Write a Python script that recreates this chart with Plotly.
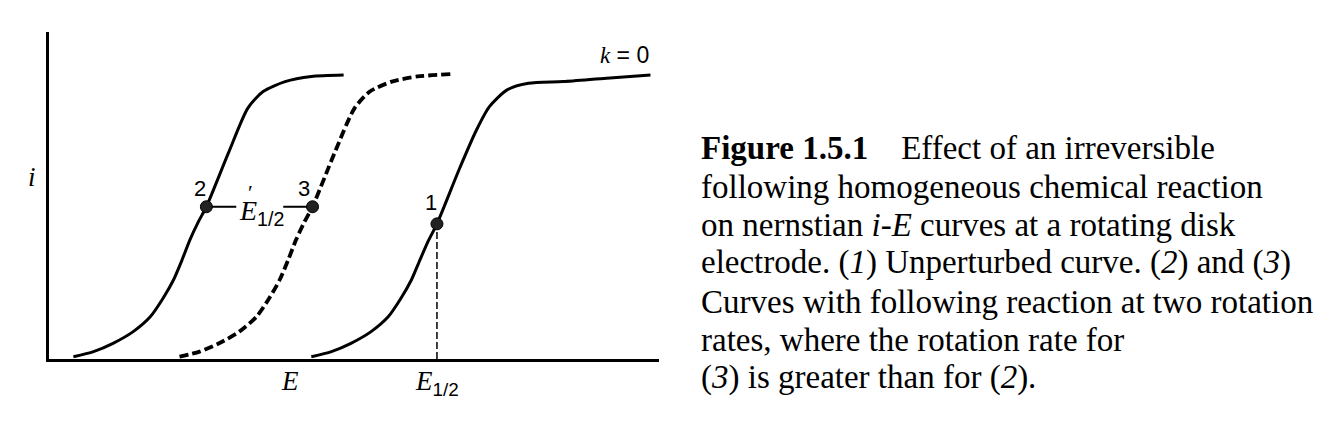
import plotly.graph_objects as go

# Curve data (E in arbitrary units, i normalised to limiting current)
E_curve2 = [0.40, 0.73, 1.05, 1.38, 1.66, 1.87, 2.04, 2.18, 2.31, 2.45, 2.58, 2.94, 3.26, 3.51, 3.87, 4.30, 4.83]
i_curve2 = [0.008, 0.026, 0.055, 0.096, 0.148, 0.213, 0.277, 0.347, 0.418, 0.482, 0.534, 0.722, 0.880, 0.938, 0.973, 0.991, 0.996]
E_curve3 = [2.14, 2.47, 2.79, 3.12, 3.40, 3.61, 3.78, 3.92, 4.05, 4.19, 4.32, 4.68, 5.01, 5.26, 5.62, 6.04, 6.58]
i_curve3 = [0.008, 0.026, 0.055, 0.096, 0.148, 0.213, 0.277, 0.347, 0.418, 0.482, 0.534, 0.722, 0.880, 0.938, 0.973, 0.991, 0.999]
E_curve1 = [4.30, 4.63, 4.95, 5.28, 5.56, 5.77, 5.94, 6.08, 6.22, 6.36, 6.72, 7.01, 7.22, 7.51, 7.86, 8.43, 9.14, 9.86]
i_curve1 = [0.008, 0.026, 0.055, 0.096, 0.148, 0.213, 0.277, 0.347, 0.415, 0.474, 0.663, 0.804, 0.885, 0.944, 0.967, 0.973, 0.985, 0.996]

point_labels = ["2", "3", "1"]
point_E = [2.58, 4.32, 6.36]
point_i = [0.534, 0.534, 0.474]

E_half = 6.36
E_half_prime_gap = [3.07, 3.84]

caption_lines = [
    "<b>Figure 1.5.1</b>\u00a0\u00a0\u00a0 Effect of an irreversible",
    "following homogeneous chemical reaction",
    "on nernstian <i>i</i>-<i>E</i> curves at a rotating disk",
    "electrode. (<i>1</i>) Unperturbed curve. (<i>2</i>) and (<i>3</i>)",
    "Curves with following reaction at two rotation",
    "rates, where the rotation rate for",
    "(<i>3</i>) is greater than for (<i>2</i>).",
]
caption_y = [0.645, 0.527, 0.410, 0.294, 0.174, 0.058, -0.058]

SERIF = "Liberation Serif, Times New Roman, serif"
SANS = "Liberation Sans, Arial, sans-serif"
XR, YR = 10.0, 1.147

fig = go.Figure()
fig.add_trace(go.Scatter(x=E_curve2, y=i_curve2, mode="lines", line=dict(color="black", width=3, shape="spline", smoothing=0.7)))
fig.add_trace(go.Scatter(x=E_curve3, y=i_curve3, mode="lines", line=dict(color="black", width=3.8, dash="9px,4px", shape="spline", smoothing=0.7)))
fig.add_trace(go.Scatter(x=E_curve1, y=i_curve1, mode="lines", line=dict(color="black", width=3, shape="spline", smoothing=0.7)))
# vertical dashed line at E1/2
fig.add_trace(go.Scatter(x=[E_half, E_half], y=[0, point_i[2]], mode="lines", line=dict(color="black", width=1.5, dash="7px,3px")))
# horizontal connector E'1/2
fig.add_trace(go.Scatter(x=[point_E[0], E_half_prime_gap[0]], y=[point_i[0], point_i[0]], mode="lines", line=dict(color="black", width=2)))
fig.add_trace(go.Scatter(x=[E_half_prime_gap[1], point_E[1]], y=[point_i[1], point_i[1]], mode="lines", line=dict(color="black", width=2)))
# points
fig.add_trace(go.Scatter(x=point_E, y=point_i, mode="markers", marker=dict(color="#222", size=12, line=dict(color="black", width=1))))

ann = []
offsets = [(-0.11, 0.065), (-0.14, 0.065), (-0.10, 0.075)]
for lab, ex, iy, (dx, dy) in zip(point_labels, point_E, point_i, offsets):
    ann.append(dict(x=ex + dx, y=iy + dy, text=lab, showarrow=False, font=dict(family=SANS, size=22, color="black")))
ann.append(dict(x=3.09, y=0.515, xanchor="left", yanchor="middle", text="<i>E</i><sub><span style='font-family:Liberation Sans'>1/2</span></sub>", showarrow=False, font=dict(family=SERIF, size=28, color="black")))
ann.append(dict(x=3.31, y=0.585, yanchor="middle", text="\u2032", showarrow=False, font=dict(family=SERIF, size=22, color="black")))
ann.append(dict(x=9.43, y=1.067, yanchor="middle", text="<i>k</i><span style='font-family:Liberation Sans'> = 0</span>", showarrow=False, font=dict(family=SERIF, size=23, color="black")))
# labels outside the plot area (paper coordinates)
ann.append(dict(xref="paper", yref="paper", x=-0.28 / XR, y=0.64 / YR, xanchor="center", yanchor="middle", text="<i>i</i>", showarrow=False, font=dict(family=SERIF, size=27, color="black")))
ann.append(dict(xref="paper", yref="paper", x=3.95 / XR, y=-0.077 / YR, xanchor="center", yanchor="middle", text="<i>E</i>", showarrow=False, font=dict(family=SERIF, size=27, color="black")))
ann.append(dict(xref="paper", yref="paper", x=E_half / XR, y=-0.085 / YR, xanchor="center", yanchor="middle", text="<i>E</i><sub><span style='font-family:Liberation Sans'>1/2</span></sub>", showarrow=False, font=dict(family=SERIF, size=27, color="black")))
for line, yy in zip(caption_lines, caption_y):
    ann.append(dict(xref="paper", yref="paper", x=1.0655, y=yy, text=line, showarrow=False, xanchor="left", yanchor="middle", font=dict(family=SERIF, size=33, color="black")))

fig.update_layout(
    width=1316, height=415,
    margin=dict(l=41, r=665, t=24, b=64),
    paper_bgcolor="white", plot_bgcolor="white",
    showlegend=False,
    annotations=ann,
    xaxis=dict(range=[0, XR], showline=True, linecolor="black", linewidth=2.5, showgrid=False, zeroline=False, showticklabels=False, ticks=""),
    yaxis=dict(range=[0, YR], showline=True, linecolor="black", linewidth=2.5, showgrid=False, zeroline=False, showticklabels=False, ticks=""),
)
fig.write_html("out.html")
